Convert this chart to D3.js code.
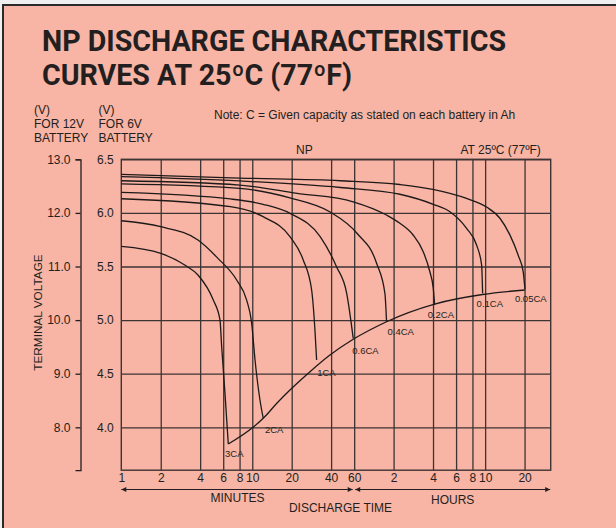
<!DOCTYPE html>
<html>
<head>
<meta charset="utf-8">
<script src="https://cdn.jsdelivr.net/npm/d3@7"></script>
<style>
  body { margin: 0; background: #efefef; }
  svg { display: block; }
  text { font-family: "Liberation Sans", Arial, sans-serif; fill: #231f20; }
</style>
</head>
<body>
<div id="chart"></div>
<script>
// Discharge curves, [minutes, volts for a 6V battery]
const rates = ["0.05CA", "0.1CA", "0.2CA", "0.4CA", "0.6CA", "1CA", "2CA", "3CA"];

const ca005 = [[1, 6.36], [8, 6.325], [47, 6.30], [134, 6.265], [239, 6.22], [433, 6.135],
               [615, 6.055], [778, 5.95], [927, 5.795], [1073, 5.605], [1172, 5.45], [1208, 5.29]];
const ca01  = [[1, 6.338], [8, 6.298], [47, 6.237], [134, 6.174], [241, 6.08], [323, 6.011],
               [433, 5.856], [516, 5.70], [564, 5.514], [574, 5.25]];
const ca02  = [[1, 6.30], [8, 6.26], [22, 6.183], [59, 6.104], [106, 5.98], [134, 5.903],
               [169, 5.794], [202, 5.638], [227, 5.451], [241, 5.297], [247, 5.141]];
const ca04  = [[1, 6.27], [8, 6.229], [19.4, 6.14], [39, 6.011], [63, 5.81], [89, 5.53],
               [103, 5.25], [106, 4.985]];
const ca06  = [[1, 6.192], [6.8, 6.13], [12.1, 6.08], [19.4, 5.996], [33, 5.778], [44, 5.498],
               [52.6, 5.25], [59, 4.83]];
const ca1   = [[1, 6.132], [6.8, 6.058], [12.1, 5.965], [19.4, 5.778], [24.5, 5.561],
               [28.4, 5.281], [30.1, 4.908], [31, 4.628]];
const ca2   = [[1, 5.927], [2, 5.871], [3.85, 5.747], [5.47, 5.576], [7.6, 5.374], [9.06, 5.187],
               [9.9, 4.97], [10.5, 4.628], [11.45, 4.255], [12.13, 4.084]];
const ca3   = [[1, 5.688], [2, 5.623], [3.05, 5.514], [3.85, 5.421], [5.04, 5.187], [5.67, 5.0],
               [5.84, 4.752], [6.19, 4.317], [6.56, 3.844]];

// final discharge voltage line joining the curve ends
const endVoltage = [[6.56, 3.844], [10.2, 4.003], [12.13, 4.084], [15.4, 4.224], [19.4, 4.348],
                    [27.6, 4.519], [39.2, 4.674], [59, 4.821], [94, 4.954], [106, 4.985],
                    [247, 5.15], [574, 5.239], [1208, 5.281]];

const series = [ca005, ca01, ca02, ca04, ca06, ca1, ca2, ca3];

// ticks
const xTicks = [1, 2, 4, 6, 8, 10, 20, 40, 60, 120, 240, 360, 480, 600, 1200];
const xTickLabels = ["1", "2", "4", "6", "8", "10", "20", "40", "60", "2", "4", "6", "8", "10", "20"];
const volt6 = [4.0, 4.5, 5.0, 5.5, 6.0, 6.5];
const volt12 = [8.0, 9.0, 10.0, 11.0, 12.0, 13.0];

const W = 616, H = 528;
const plot = { left: 121.3, right: 550.7, top: 159.3, bottom: 470.2 };
const ink = "#231f20";
const gridInk = "#3d3434";

const svg = d3.select("#chart").append("svg")
    .attr("width", W)
    .attr("height", H);

// page panel
svg.append("rect")
    .attr("x", 3).attr("y", 5)
    .attr("width", W + 10).attr("height", H + 10)
    .attr("fill", "#f8b4a4")
    .attr("stroke", "#2b2b2b")
    .attr("stroke-width", 2);

const x = d3.scaleLog().domain([1, 1900]).range([plot.left, plot.right]);
const y = d3.scaleLinear().domain([3.6, 6.5]).range([plot.bottom, plot.top]);
const y12 = d3.scaleLinear().domain([7.2, 13]).range([plot.bottom, plot.top]);

// vertical grid
svg.append("g")
    .attr("transform", `translate(0, ${plot.bottom})`)
    .call(d3.axisBottom(x).tickValues(xTicks.slice(1)).tickSize(-(plot.bottom - plot.top)).tickFormat(""))
    .call(g => g.select(".domain").remove())
    .selectAll("line").attr("stroke", gridInk).attr("stroke-width", 1.3);

// horizontal grid
svg.append("g")
    .attr("transform", `translate(${plot.left}, 0)`)
    .call(d3.axisLeft(y).tickValues(volt6).tickSize(-(plot.right - plot.left)).tickFormat(""))
    .call(g => g.select(".domain").remove())
    .selectAll("line").attr("stroke", gridInk).attr("stroke-width", 1.3);

// plot frame
svg.append("rect")
    .attr("x", x(1)).attr("y", y(6.5))
    .attr("width", x(1900) - x(1))
    .attr("height", y(3.6) - y(6.5))
    .attr("fill", "none")
    .attr("stroke", gridInk)
    .attr("stroke-width", 1.4);

// x tick labels
svg.append("g")
    .attr("transform", `translate(0, ${plot.bottom})`)
    .call(d3.axisBottom(x).tickValues(xTicks).tickSize(0).tickPadding(3)
        .tickFormat((d, i) => xTickLabels[i]))
    .call(g => g.select(".domain").remove())
    .selectAll("text")
    .attr("fill", ink)
    .style("font-size", "12px")
    .style("font-family", "Liberation Sans, Arial, sans-serif");

// 12V axis with bracket
svg.append("g")
    .attr("transform", "translate(80.5, 0)")
    .call(d3.axisLeft(y12).tickValues(volt12).tickSize(5).tickSizeOuter(5).tickPadding(5)
        .tickFormat(d3.format(".1f")))
    .call(g => g.selectAll("path, line").attr("stroke", ink).attr("stroke-width", 1.3))
    .selectAll("text")
    .attr("fill", ink)
    .style("font-size", "12px")
    .style("font-family", "Liberation Sans, Arial, sans-serif");

// 6V labels
svg.append("g")
    .attr("transform", "translate(97, 0)")
    .call(d3.axisRight(y).tickValues(volt6).tickSize(0).tickPadding(0)
        .tickFormat(d3.format(".1f")))
    .call(g => g.select(".domain").remove())
    .selectAll("text")
    .attr("fill", ink)
    .style("font-size", "12px")
    .style("font-family", "Liberation Sans, Arial, sans-serif");

// curves
const line = d3.line()
    .x(d => x(d[0]))
    .y(d => y(d[1]))
    .curve(d3.curveMonotoneX);

svg.append("g")
    .selectAll("path")
    .data(series)
    .enter()
    .append("path")
    .attr("d", line)
    .attr("fill", "none")
    .attr("stroke", "#1e1a1a")
    .attr("stroke-width", 1.3);

svg.append("path")
    .datum(endVoltage)
    .attr("d", line)
    .attr("fill", "none")
    .attr("stroke", "#1e1a1a")
    .attr("stroke-width", 1.3);

// rate labels under each curve end
const labelNudge = {
    "0.05CA": [-10, 12.5], "0.1CA": [-6, 13.7], "0.2CA": [-7, 13.5], "0.4CA": [1, 12.8],
    "0.6CA": [-1, 15.7], "1CA": [0.6, 16.5], "2CA": [1.7, 14.2], "3CA": [-3.3, 12.5]
};
svg.append("g")
    .selectAll("text")
    .data(series)
    .enter()
    .append("text")
    .attr("x", (d, i) => x(d[d.length - 1][0]) + labelNudge[rates[i]][0])
    .attr("y", (d, i) => y(d[d.length - 1][1]) + labelNudge[rates[i]][1])
    .style("font-size", "9.5px")
    .text((d, i) => rates[i]);

// title
const title = svg.append("text")
    .style("font-family", "Roboto, sans-serif")
    .style("font-weight", "bold")
    .style("font-size", "28.6px");
title.append("tspan").attr("x", 42).attr("y", 51).text("NP DISCHARGE CHARACTERISTICS");
title.append("tspan").attr("x", 42).attr("y", 85).text("CURVES AT 25ºC (77ºF)");

// unit headers
const hdr = [["(V)", 113.5], ["FOR 12V", 127.5], ["BATTERY", 141.5]];
const hdr6 = [["(V)", 113.5], ["FOR 6V", 127.5], ["BATTERY", 141.5]];
hdr.forEach(([t, yy]) => svg.append("text").attr("x", 34).attr("y", yy).style("font-size", "12px").text(t));
hdr6.forEach(([t, yy]) => svg.append("text").attr("x", 98.5).attr("y", yy).style("font-size", "12px").text(t));

svg.append("text")
    .attr("x", 214).attr("y", 119)
    .style("font-size", "12px")
    .text("Note: C = Given capacity as stated on each battery in Ah");

svg.append("text")
    .attr("x", 296).attr("y", 153.5)
    .style("font-size", "12px")
    .text("NP");

svg.append("text")
    .attr("x", 460.5).attr("y", 154)
    .style("font-size", "12px")
    .text("AT 25ºC (77ºF)");

svg.append("text")
    .attr("transform", "translate(41.5, 312.5) rotate(-90)")
    .attr("text-anchor", "middle")
    .style("font-size", "11.8px")
    .text("TERMINAL VOLTAGE");

// time arrows
const defs = svg.append("defs");
["start", "end"].forEach(k => {
    defs.append("marker")
        .attr("id", "arrow-" + k)
        .attr("viewBox", "0 0 10 10")
        .attr("refX", k === "end" ? 10 : 0)
        .attr("refY", 5)
        .attr("markerWidth", 6)
        .attr("markerHeight", 5)
        .attr("markerUnits", "userSpaceOnUse")
        .attr("orient", "auto")
        .append("path")
        .attr("d", k === "end" ? "M0,0L10,5L0,10Z" : "M10,0L0,5L10,10Z")
        .attr("fill", ink);
});

const arrowY = 489.5;
svg.append("line")
    .attr("x1", x(1)).attr("x2", x(60) - 1.5)
    .attr("y1", arrowY).attr("y2", arrowY)
    .attr("stroke", ink).attr("stroke-width", 1)
    .attr("marker-start", "url(#arrow-start)")
    .attr("marker-end", "url(#arrow-end)");
svg.append("line")
    .attr("x1", x(60) + 1).attr("x2", x(1900) - 0.5)
    .attr("y1", arrowY).attr("y2", arrowY)
    .attr("stroke", ink).attr("stroke-width", 1)
    .attr("marker-start", "url(#arrow-start)")
    .attr("marker-end", "url(#arrow-end)");

svg.append("text")
    .attr("x", 237.5).attr("y", 502)
    .attr("text-anchor", "middle")
    .style("font-size", "12px")
    .text("MINUTES");
svg.append("text")
    .attr("x", 452.7).attr("y", 504)
    .attr("text-anchor", "middle")
    .style("font-size", "12px")
    .text("HOURS");
svg.append("text")
    .attr("x", 340.5).attr("y", 512)
    .attr("text-anchor", "middle")
    .style("font-size", "12px")
    .text("DISCHARGE TIME");
</script>
</body>
</html>
